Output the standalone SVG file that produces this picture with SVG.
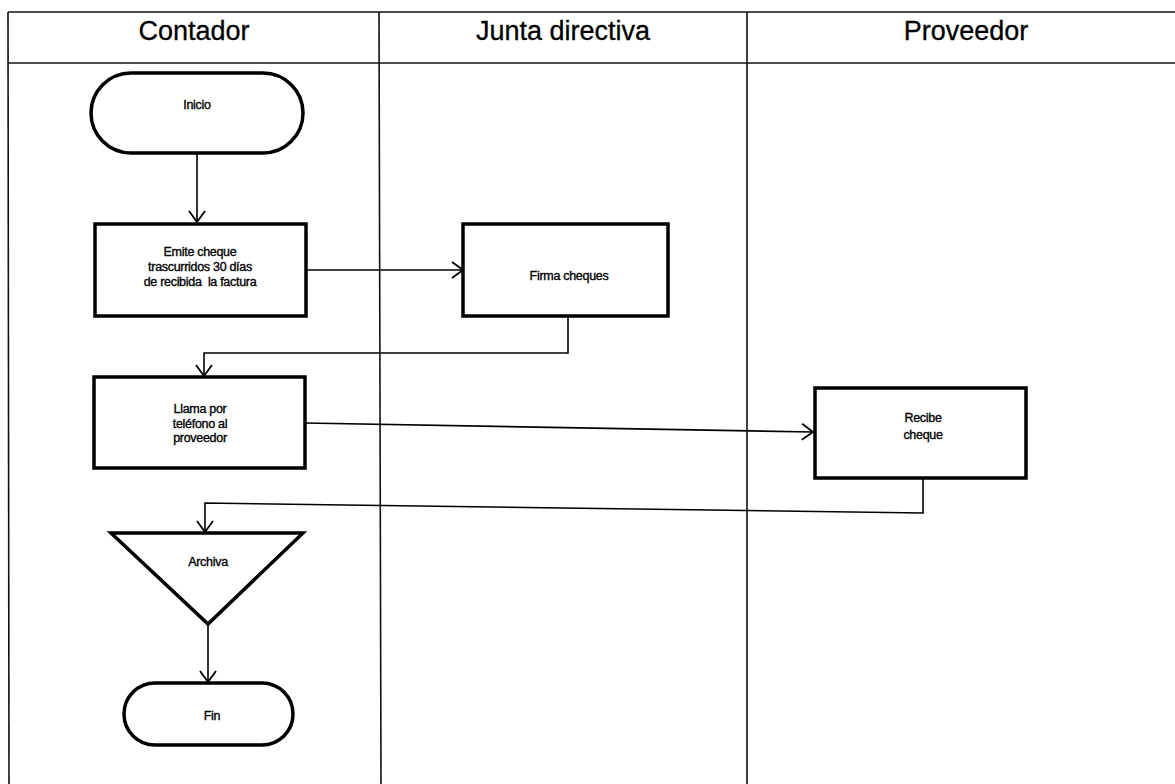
<svg xmlns="http://www.w3.org/2000/svg" width="1175" height="784" viewBox="0 0 1175 784">
  <style>
    .lane { fill: none; stroke: #111; stroke-width: 1.6; }
    .shape { fill: #fff; stroke: #000; stroke-width: 3.5; stroke-linejoin: miter; }
    .conn { fill: none; stroke: #000; stroke-width: 1.6; }
    .head { font-family: "Liberation Sans", Arial, sans-serif; font-size: 27px; fill: #000; stroke: #000; stroke-width: 0.3; text-anchor: middle; }
    .lbl { font-family: "Liberation Sans", Arial, sans-serif; font-size: 12.5px; fill: #000; stroke: #000; stroke-width: 0.35; text-anchor: middle; letter-spacing: -0.3px; }
  </style>
  <defs>
    <marker id="arrow" markerUnits="userSpaceOnUse" markerWidth="14" markerHeight="18" refX="12" refY="9" orient="auto">
      <path d="M1,1 L12,9 L1,17" fill="none" stroke="#000" stroke-width="1.8"/>
    </marker>
  </defs>
  <rect width="1175" height="784" fill="#fff"/>

  <!-- swimlane frame -->
  <g id="lanes">
    <line class="lane" x1="8" y1="12" x2="1175" y2="12"/>
    <line class="lane" x1="8" y1="63" x2="1175" y2="63"/>
    <line class="lane" x1="8" y1="12" x2="9" y2="784"/>
    <line class="lane" x1="379" y1="12" x2="381" y2="784"/>
    <line class="lane" x1="747" y1="12" x2="747" y2="784"/>
    <text class="head" x="194" y="40">Contador</text>
    <text class="head" x="563" y="40">Junta directiva</text>
    <text class="head" x="966" y="40">Proveedor</text>
  </g>

  <!-- connectors -->
  <g id="connectors">
    <line class="conn" x1="197" y1="153" x2="197" y2="222" marker-end="url(#arrow)"/>
    <line class="conn" x1="306" y1="270" x2="463" y2="270" marker-end="url(#arrow)"/>
    <polyline class="conn" points="568,316 568,353 204,353 204,376" marker-end="url(#arrow)"/>
    <line class="conn" x1="305" y1="423" x2="813" y2="432" marker-end="url(#arrow)"/>
    <polyline class="conn" points="923,478 923,513 205,503 205,532" marker-end="url(#arrow)"/>
    <line class="conn" x1="208" y1="625" x2="208" y2="682" marker-end="url(#arrow)"/>
  </g>

  <g id="inicio">
    <rect class="shape" x="91" y="73" width="212" height="80" rx="40" ry="40"/>
    <text class="lbl" x="197" y="109">Inicio</text>
  </g>

  <g id="emite">
    <rect class="shape" x="95" y="224" width="211" height="92"/>
    <text class="lbl" x="200" y="256">Emite cheque</text>
    <text class="lbl" x="200" y="271">trascurridos 30 días</text>
    <text class="lbl" x="200" y="286" xml:space="preserve">de recibida  la factura</text>
  </g>

  <g id="firma">
    <rect class="shape" x="463" y="224" width="205" height="92"/>
    <text class="lbl" x="569" y="280">Firma cheques</text>
  </g>

  <g id="llama">
    <rect class="shape" x="94" y="377" width="211" height="91"/>
    <text class="lbl" x="200" y="413">Llama por</text>
    <text class="lbl" x="200" y="428">teléfono al</text>
    <text class="lbl" x="200" y="442">proveedor</text>
  </g>

  <g id="recibe">
    <rect class="shape" x="815" y="388" width="211" height="90"/>
    <text class="lbl" x="923" y="422">Recibe</text>
    <text class="lbl" x="923" y="439">cheque</text>
  </g>

  <g id="archiva">
    <polygon class="shape" points="111,533 303,533 208,624"/>
    <text class="lbl" x="208" y="566">Archiva</text>
  </g>

  <g id="fin">
    <rect class="shape" x="124" y="683" width="169" height="62" rx="31" ry="31"/>
    <text class="lbl" x="212" y="720">Fin</text>
  </g>
</svg>
